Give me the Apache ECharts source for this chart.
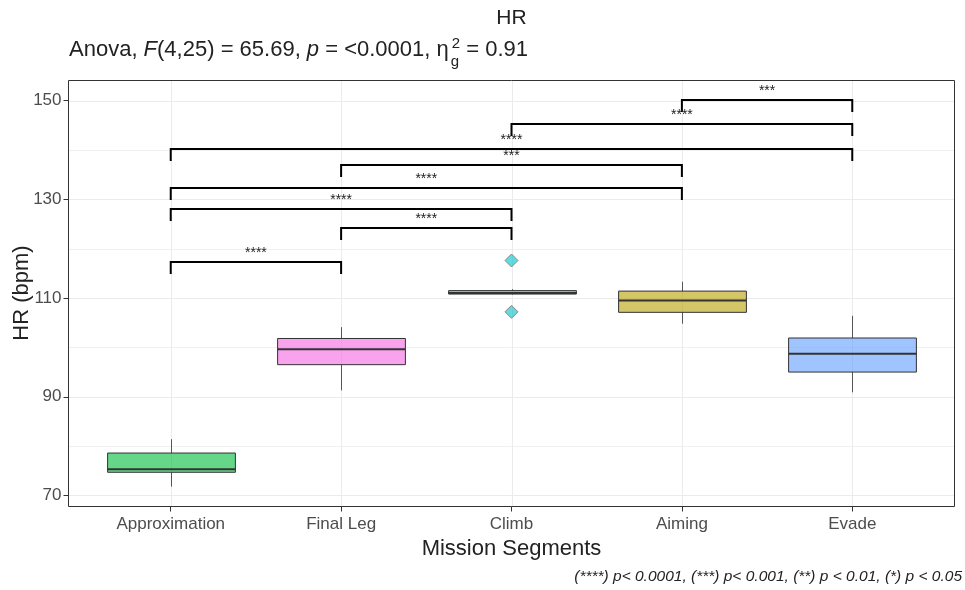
<!DOCTYPE html>
<html><head><meta charset="utf-8">
<script src="https://cdn.jsdelivr.net/npm/echarts@6/dist/echarts.min.js"></script>
<style>html,body{margin:0;padding:0;background:#fff}#c{width:965px;height:590px}</style>
</head><body><div id="c"></div>
<script>
// ---- data ----
const categories = ['Approximation', 'Final Leg', 'Climb', 'Aiming', 'Evade'];
const lowerWhisker = [71.8, 91.3, 110.7, 104.8, 90.9];
const q1 = [74.7, 96.5, 110.8, 107.1, 95.0];
const median = [75.3, 99.6, 111.0, 109.5, 98.7];
const q3 = [78.6, 101.8, 111.5, 111.4, 101.9];
const upperWhisker = [81.4, 104.1, 111.8, 113.3, 106.4];
const outlierCategory = [3, 3];
const outlierValue = [117.6, 107.2];
const bracketFrom = [4, 3, 1, 2, 1, 1, 2, 1];
const bracketTo = [5, 5, 5, 4, 4, 3, 3, 2];
const bracketY = [150.1, 145.3, 140.2, 137.0, 132.3, 128.1, 124.2, 117.2];
const bracketLabel = ['***', '****', '****', '***', '****', '****', '****', '****'];
const yTicks = [70, 90, 110, 130, 150];
const yMinorTicks = [80, 100, 120, 140];
const yMin = 67.77, yMax = 154.06;

// ---- styles ----
const FONT = '"Liberation Sans", Arial, sans-serif';
const fills = ['rgba(0,186,56,0.6)', 'rgba(245,100,227,0.6)', 'rgba(0,191,196,0.6)', 'rgba(183,159,0,0.6)', 'rgba(97,156,255,0.6)'];
const catPos = categories.map((c, i) => i + 1);

const chart = echarts.init(document.getElementById('c'));

function crisp(v) { return Math.round(v) + 0.5; }

function renderHGrid(params, api) {
  const cs = params.coordSys;
  const y = crisp(api.coord([1, api.value(1)])[1]);
  const major = api.value(2) === 1;
  return { type: 'line', shape: { x1: cs.x, y1: y, x2: cs.x + cs.width, y2: y },
    style: { stroke: major ? '#ebebeb' : '#f0f0f0', lineWidth: 1 } };
}
function renderVGrid(params, api) {
  const cs = params.coordSys;
  const x = crisp(api.coord([api.value(0), yMin])[0]);
  return { type: 'line', shape: { x1: x, y1: cs.y, x2: x, y2: cs.y + cs.height },
    style: { stroke: '#ebebeb', lineWidth: 1 } };
}
function renderBox(params, api) {
  const x = api.value(0);
  const lo = api.coord([x, api.value(1)]);
  const p1 = api.coord([x, api.value(2)]);
  const pm = api.coord([x, api.value(3)]);
  const p3 = api.coord([x, api.value(4)]);
  const hi = api.coord([x, api.value(5)]);
  const halfW = api.size([0.75, 0])[0] / 2;
  const cx = crisp(lo[0]);
  return { type: 'group', children: [
    { type: 'line', shape: { x1: cx, y1: hi[1], x2: cx, y2: p3[1] }, style: { stroke: '#555', lineWidth: 1 } },
    { type: 'line', shape: { x1: cx, y1: p1[1], x2: cx, y2: lo[1] }, style: { stroke: '#555', lineWidth: 1 } },
    { type: 'rect', shape: { x: cx - halfW, y: p3[1], width: 2 * halfW, height: p1[1] - p3[1] },
      style: { fill: fills[params.dataIndex], stroke: '#333', lineWidth: 1 } },
    { type: 'line', shape: { x1: cx - halfW, y1: pm[1], x2: cx + halfW, y2: pm[1] }, style: { stroke: '#333', lineWidth: 2 } }
  ] };
}
function renderBracket(params, api) {
  const a = api.coord([api.value(0), api.value(2)]);
  const b = api.coord([api.value(1), api.value(2)]);
  const tip = 12;
  const y = Math.round(a[1]);
  return { type: 'group', children: [
    { type: 'polyline', shape: { points: [[a[0], y + tip], [a[0], y], [b[0], y], [b[0], y + tip]] },
      style: { stroke: '#000', lineWidth: 2, fill: null } },
    { type: 'text', x: (a[0] + b[0]) / 2, y: y - 9,
      style: { text: bracketLabel[params.dataIndex], fontFamily: FONT, fontSize: 14, fill: '#222',
        align: 'center', verticalAlign: 'middle' } }
  ] };
}

// subtitle built from measured text pieces
const mctx = document.createElement('canvas').getContext('2d');
function tw(t, font) { mctx.font = font; return mctx.measureText(t).width; }
const SUB_SIZE = 22, SMALL = 15;
const subParts = [
  { t: 'Anova, ', it: false }, { t: 'F', it: true }, { t: '(4,25) = 65.69, ', it: false },
  { t: 'p', it: true }, { t: ' = <0.0001, ', it: false }, { t: 'η', it: false }
];
const graphics = [];
let sx = 69;
const subY = 50;
subParts.forEach(p => {
  const f = (p.it ? 'italic ' : '') + SUB_SIZE + 'px ' + FONT;
  graphics.push({ type: 'text', x: sx, y: subY, style: { text: p.t, fontFamily: FONT, fontSize: SUB_SIZE,
    fontStyle: p.it ? 'italic' : 'normal', fill: '#222', align: 'left', verticalAlign: 'middle' } });
  sx += tw(p.t, f);
});
graphics.push({ type: 'text', x: sx + 3, y: 44, style: { text: '2', fontFamily: FONT, fontSize: SMALL, fill: '#222', verticalAlign: 'middle' } });
graphics.push({ type: 'text', x: sx + 2, y: 62, style: { text: 'g', fontFamily: FONT, fontSize: SMALL, fill: '#222', verticalAlign: 'middle' } });
sx += 3 + tw('2', SMALL + 'px ' + FONT);
graphics.push({ type: 'text', x: sx, y: subY, style: { text: ' = 0.91', fontFamily: FONT, fontSize: SUB_SIZE, fill: '#222', verticalAlign: 'middle' } });
// title
graphics.push({ type: 'text', x: 511.5, y: 18.5, style: { text: 'HR', fontFamily: FONT, fontSize: 21, fill: '#222', align: 'center', verticalAlign: 'middle' } });
// y axis title
graphics.push({ type: 'text', x: 22, y: 293, rotation: Math.PI / 2,
  style: { text: 'HR (bpm)', fontFamily: FONT, fontSize: 22, fill: '#222', align: 'center', verticalAlign: 'middle' } });
// caption
graphics.push({ type: 'text', x: 962, y: 577, style: { text: '(****) p< 0.0001, (***) p< 0.001, (**) p < 0.01, (*) p < 0.05',
  fontFamily: FONT, fontSize: 15.5, fontStyle: 'italic', fill: '#222', align: 'right', verticalAlign: 'middle' } });

const option = {
  animation: false,
  backgroundColor: '#fff',
  grid: { left: 68.5, right: 10.5, top: 80.5, bottom: 83.5, show: true, borderColor: '#333', borderWidth: 1, backgroundColor: 'transparent', z: 10 },
  xAxis: {
    type: 'value', min: 0.4, max: 5.6,
    axisLine: { show: false }, splitLine: { show: false },
    axisTick: { show: true, customValues: catPos, length: 5, lineStyle: { color: '#333' } },
    axisLabel: { customValues: catPos, formatter: v => categories[Math.round(v) - 1], color: '#4d4d4d',
      fontSize: 17, fontFamily: FONT, margin: 9 },
    name: 'Mission Segments', nameLocation: 'middle', nameGap: 31,
    nameTextStyle: { fontSize: 22, fontFamily: FONT, color: '#222' }
  },
  yAxis: {
    type: 'value', min: yMin, max: yMax,
    axisLine: { show: false }, splitLine: { show: false },
    axisTick: { show: true, customValues: yTicks, length: 5, lineStyle: { color: '#333' } },
    axisLabel: { customValues: yTicks, color: '#4d4d4d', fontSize: 17, fontFamily: FONT, margin: 7 }
  },
  graphic: graphics,
  series: [
    { type: 'custom', name: 'hgrid', renderItem: renderHGrid, silent: true, z: 0,
      data: yTicks.map(v => [1, v, 1]).concat(yMinorTicks.map(v => [1, v, 0])) },
    { type: 'custom', name: 'vgrid', renderItem: renderVGrid, silent: true, z: 0,
      data: catPos.map(x => [x, yMin]) },
    { type: 'custom', name: 'boxes', renderItem: renderBox, z: 2,
      data: categories.map((c, i) => [i + 1, lowerWhisker[i], q1[i], median[i], q3[i], upperWhisker[i]]) },
    { type: 'scatter', name: 'outliers', z: 3, symbol: 'diamond', symbolSize: 13,
      itemStyle: { color: fills[2], borderColor: '#888', borderWidth: 1, opacity: 1 },
      data: outlierCategory.map((c, i) => [c, outlierValue[i]]) },
    { type: 'custom', name: 'brackets', renderItem: renderBracket, z: 4,
      data: bracketFrom.map((f, i) => [f, bracketTo[i], bracketY[i]]) }
  ]
};
chart.setOption(option);
</script></body></html>
